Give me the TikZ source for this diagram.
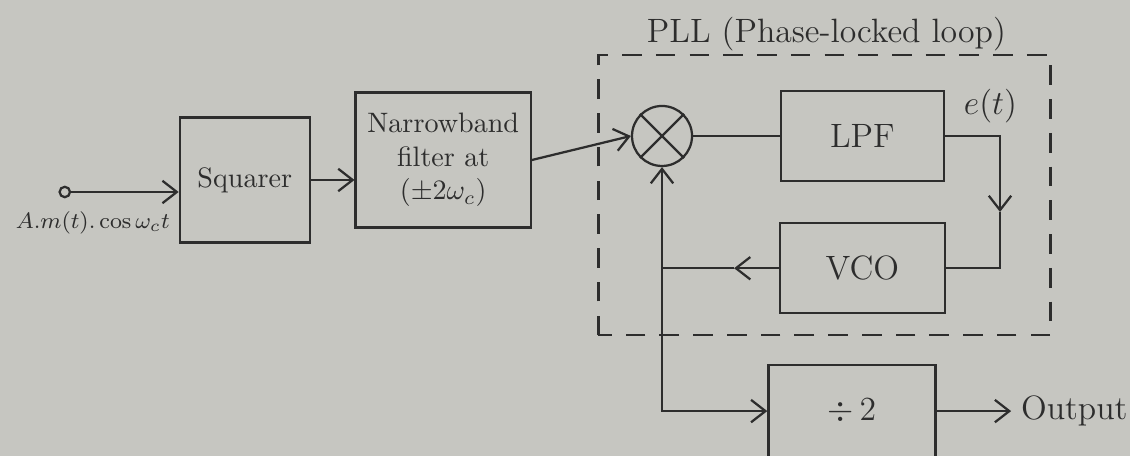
\documentclass[tikz,border=0pt]{standalone}
\usepackage{amsmath}
\usetikzlibrary{positioning,arrows.meta}

\definecolor{paper}{RGB}{198,198,193}
\definecolor{ink}{RGB}{45,45,45}

\tikzset{
  blk/.style={draw=ink, text=ink, line width=0.8pt, align=center},
  wire/.style={draw=ink, line width=0.8pt},
  arr/.style={wire, -{Straight Barb[length=1.8mm,width=2.8mm]}},
}

\begin{document}
\begin{tikzpicture}
    \fill[paper] (0,0) rectangle (14.125,5.7);
    \useasboundingbox (0,0) rectangle (14.125,5.7);

    \node (in) [circle, draw=ink, line width=0.8pt, inner sep=0pt, minimum size=0.13cm] at (0.81,3.3) {};
    \node (inlab) [below=0.04cm of in, xshift=0.35cm, text=ink, font=\footnotesize] {$A.m(t).\cos\omega_c t$};
    \node (sq) [blk, minimum width=1.625cm, minimum height=1.56cm] at (3.06,3.45) {Squarer};
    \node (nbf) [blk, minimum width=2.19cm, minimum height=1.69cm] at (5.54,3.7) {Narrowband\\filter at\\$(\pm 2\omega_c)$};
    \node (mix) [circle, wire, minimum size=0.75cm, inner sep=0pt] at (8.275,4.0) {};
    \node (lpf) [blk, minimum width=2.04cm, minimum height=1.125cm, font=\large] at (10.78,4.0) {LPF};
    \node (vco) [blk, minimum width=2.06cm, minimum height=1.125cm, font=\large, below=0.5cm of lpf] {VCO};
    \node (div) [blk, minimum width=2.09cm, minimum height=1.15cm, font=\large, below=0.62cm of vco, xshift=-0.13cm] {$\div\,2$};
    \node (out) [right=0.93cm of div, text=ink, font=\large] {Output};
    \node (et) [text=ink, font=\large] at (12.38,4.38) {$e(t)$};
    \node (pll) [text=ink, font=\large] at (10.33,5.27) {PLL (Phase-locked loop)};

    \coordinate (rdn) at (12.5,3.05);
    \coordinate (lft) at (mix |- vco.west);

    \draw[wire] (mix.north west) -- (mix.south east) (mix.north east) -- (mix.south west);
    \draw[arr] (in) -- (in -| sq.west);
    \draw[arr] (sq.east) -- (sq.east -| nbf.west);
    \draw[arr] (nbf.east) -- (mix.west);
    \draw[wire] (mix.east) -- (lpf.west);
    \draw[arr] (lpf.east) -| (rdn);
    \draw[wire] (rdn) |- (vco.east);
    \draw[arr] (vco.west) -- ++(-0.56,0) coordinate (lmid);
    \draw[wire] (lmid) -- (lft);
    \draw[arr] (lft) -- (mix.south);
    \draw[arr] (lft) |- (div.west);
    \draw[arr] (div.east) -- (out.west);

    \draw[wire, dash pattern=on 7pt off 5pt] (7.48,1.51) rectangle (13.13,5.01);
\end{tikzpicture}
\end{document}
